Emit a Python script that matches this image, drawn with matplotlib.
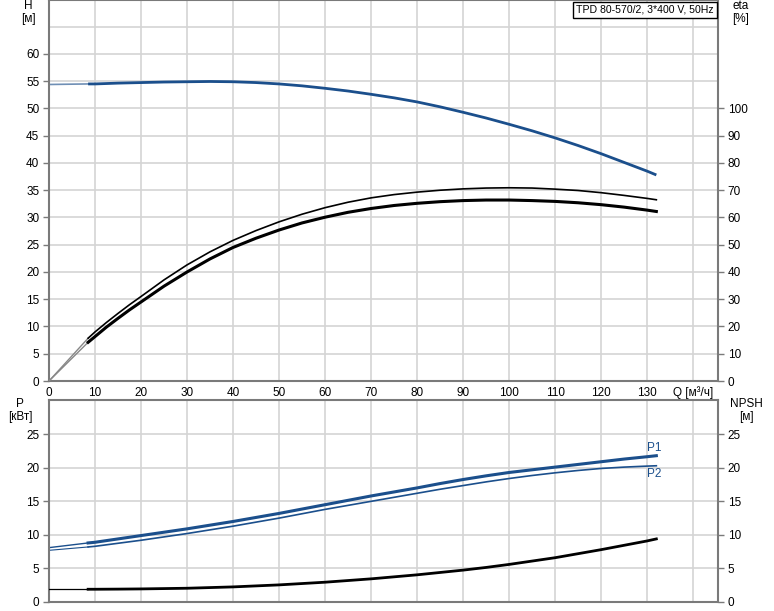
import matplotlib
matplotlib.use("Agg")
import matplotlib.pyplot as plt

plt.rcParams['font.family'] = ['Liberation Sans', 'DejaVu Sans']
plt.rcParams['font.size'] = 8

# ---------------- data ----------------
q_h = [8.5, 10, 15, 20, 25, 30, 35, 40, 45, 50, 55, 60, 65, 70, 75, 80, 85, 90, 95, 100,
       105, 110, 115, 120, 125, 130, 132]
head = [54.5, 54.5, 54.65, 54.75, 54.85, 54.9, 54.95, 54.9, 54.75, 54.5, 54.15, 53.7, 53.2,
        52.6, 51.95, 51.2, 50.3, 49.3, 48.25, 47.1, 45.9, 44.6, 43.2, 41.7, 40.1, 38.5, 37.8]
head_q0 = 54.4

q_eta = [8.5, 10, 12.5, 15, 17.5, 20, 25, 30, 35, 40, 45, 50, 55, 60, 65, 70, 75, 80, 85, 90,
         95, 100, 105, 110, 115, 120, 125, 130, 132]
eta_lower = [14.2, 16.3, 19.8, 23.0, 26.1, 29.0, 34.8, 40.0, 44.8, 49.0, 52.4, 55.4, 58.0, 60.1,
             61.9, 63.3, 64.4, 65.2, 65.8, 66.2, 66.4, 66.4, 66.2, 65.9, 65.4, 64.7, 63.8, 62.7, 62.2]
eta_upper = [15.7, 18.0, 21.5, 24.8, 28.0, 31.0, 37.1, 42.6, 47.4, 51.6, 55.2, 58.4, 61.2, 63.6,
             65.6, 67.2, 68.4, 69.3, 70.0, 70.5, 70.8, 70.9, 70.8, 70.4, 69.9, 69.1, 68.1, 67.0, 66.5]
eta_q0 = 0.0

q_p = [8.5, 10, 15, 20, 25, 30, 35, 40, 45, 50, 55, 60, 65, 70, 75, 80, 85, 90, 95, 100,
       105, 110, 115, 120, 125, 130, 132]
p1 = [8.8, 8.9, 9.4, 9.9, 10.4, 10.9, 11.45, 12.0, 12.6, 13.2, 13.85, 14.5, 15.15, 15.8, 16.4,
      17.0, 17.65, 18.25, 18.8, 19.3, 19.7, 20.1, 20.5, 20.9, 21.3, 21.65, 21.8]
p2 = [8.2, 8.3, 8.75, 9.2, 9.7, 10.2, 10.75, 11.3, 11.9, 12.5, 13.15, 13.8, 14.4, 15.0, 15.6,
      16.2, 16.8, 17.35, 17.9, 18.4, 18.85, 19.25, 19.6, 19.9, 20.1, 20.25, 20.3]
p1_q0 = 8.1
p2_q0 = 7.7

q_npsh = [8.5, 10, 15, 20, 25, 30, 35, 40, 45, 50, 55, 60, 65, 70, 75, 80, 85, 90, 95, 100,
          105, 110, 115, 120, 125, 130, 132]
npsh = [1.9, 1.9, 1.92, 1.95, 2.0, 2.05, 2.15, 2.25, 2.4, 2.55, 2.75, 2.95, 3.2, 3.45, 3.75,
        4.05, 4.4, 4.75, 5.15, 5.6, 6.1, 6.6, 7.2, 7.8, 8.45, 9.1, 9.4]
npsh_q0 = 1.9

x_ticks = [0, 10, 20, 30, 40, 50, 60, 70, 80, 90, 100, 110, 120, 130, 140]
x_ticklabels = ['0', '10', '20', '30', '40', '50', '60', '70', '80', '90', '100', '110', '120', '130', 'Q [м³/ч]']
h_ticks = [0, 5, 10, 15, 20, 25, 30, 35, 40, 45, 50, 55, 60]
eta_ticks = [0, 10, 20, 30, 40, 50, 60, 70, 80, 90, 100]
p_ticks = [0, 5, 10, 15, 20, 25]
npsh_ticks = [0, 5, 10, 15, 20, 25]
title_text = 'TPD 80-570/2, 3*400 V, 50Hz'

# ---------------- style ----------------
W, H = 774, 611
BLUE = '#1b4f8c'
GRID = '#d4d4d4'
SPINE = '#7a7a7a'

fig = plt.figure(figsize=(W / 100, H / 100), dpi=100)
ax1 = fig.add_axes([49 / W, 1 - 381 / H, 669 / W, 381 / H])
ax2 = fig.add_axes([49 / W, 1 - 602 / H, 669 / W, 202 / H])

XMAX = 145.4

def style(ax):
    for s in ax.spines.values():
        s.set_color(SPINE)
        s.set_linewidth(1.5)
    ax.set_xlim(0, XMAX)
    ax.set_xticks(x_ticks)
    ax.grid(True, color=GRID, linewidth=1.2)
    ax.set_axisbelow(True)
    ax.tick_params(axis='y', length=4, width=1, color=SPINE, pad=3, labelsize=8.5)
    ax.tick_params(axis='x', length=0, pad=4, labelsize=8.5)

# ---- top panel ----
style(ax1)
ax1.set_ylim(0, 69.9)
ax1.set_yticks(h_ticks)
ax1.axhline(65, color=GRID, linewidth=1.2, zorder=0)
ax1.set_xticklabels(x_ticklabels)

ax1r = ax1.twinx()
ax1r.set_ylim(0, 139.8)
ax1r.set_yticks(eta_ticks)
for s in ax1r.spines.values():
    s.set_visible(False)
ax1r.tick_params(axis='y', length=4, width=1, color=SPINE, pad=3, labelsize=8.5)

# head
ax1.plot([0, q_h[0]], [head_q0, head[0]], color='#6f8fb5', linewidth=1.2)
ax1.plot(q_h, head, color=BLUE, linewidth=2.0, solid_capstyle='butt')

# efficiency (right axis)
ax1r.plot([0, q_eta[0]], [eta_q0, eta_lower[0]], color='#888888', linewidth=1.0)
ax1r.plot([0, q_eta[0]], [eta_q0, eta_upper[0]], color='#888888', linewidth=1.0)
ax1r.plot(q_eta, eta_upper, color='black', linewidth=1.2)
ax1r.plot(q_eta, eta_lower, color='black', linewidth=2.2)

# ---- bottom panel ----
style(ax2)
ax2.set_ylim(0, 30.1)
ax2.set_yticks(p_ticks)
ax2.set_xticklabels([])

ax2r = ax2.twinx()
ax2r.set_ylim(0, 30.1)
ax2r.set_yticks(npsh_ticks)
for s in ax2r.spines.values():
    s.set_visible(False)
ax2r.tick_params(axis='y', length=4, width=1, color=SPINE, pad=3, labelsize=8.5)

ax2.plot([0, q_p[0]], [p1_q0, p1[0]], color=BLUE, linewidth=1.0)
ax2.plot([0, q_p[0]], [p2_q0, p2[0]], color=BLUE, linewidth=0.8)
ax2.plot(q_p, p1, color=BLUE, linewidth=2.2)
ax2.plot(q_p, p2, color=BLUE, linewidth=1.2)
ax2.text(q_p[-1] - 0.5, p1[-1] + 0.3, 'P1', color=BLUE, fontsize=8.5, ha='center', va='bottom')
ax2.text(q_p[-1] - 0.5, p2[-1] - 0.3, 'P2', color=BLUE, fontsize=8.5, ha='center', va='top')

ax2r.plot([0, q_npsh[0]], [npsh_q0, npsh[0]], color='black', linewidth=0.9)
ax2r.plot(q_npsh, npsh, color='black', linewidth=2.0)

# ---- axis titles ----
fig.text(28 / W, 1 - 6 / H, 'H', ha='center', va='center', fontsize=8.5)
fig.text(28 / W, 1 - 19 / H, '[м]', ha='center', va='center', fontsize=8.5)
fig.text(741 / W, 1 - 6 / H, 'eta', ha='center', va='center', fontsize=8.5)
fig.text(741 / W, 1 - 19 / H, '[%]', ha='center', va='center', fontsize=8.5)
fig.text(20 / W, 1 - 404 / H, 'P', ha='center', va='center', fontsize=8.5)
fig.text(20 / W, 1 - 417 / H, '[кВт]', ha='center', va='center', fontsize=8.5)
fig.text(746 / W, 1 - 404 / H, 'NPSH', ha='center', va='center', fontsize=8.5)
fig.text(746 / W, 1 - 417 / H, '[м]', ha='center', va='center', fontsize=8.5)

fig.text(714 / W, 1 - 10 / H, title_text, ha='right', va='center', fontsize=7.6,
         bbox=dict(boxstyle='square,pad=0.3', facecolor='white', edgecolor='black', linewidth=1.0),
         zorder=10)

fig.savefig('out.png', dpi=100)
